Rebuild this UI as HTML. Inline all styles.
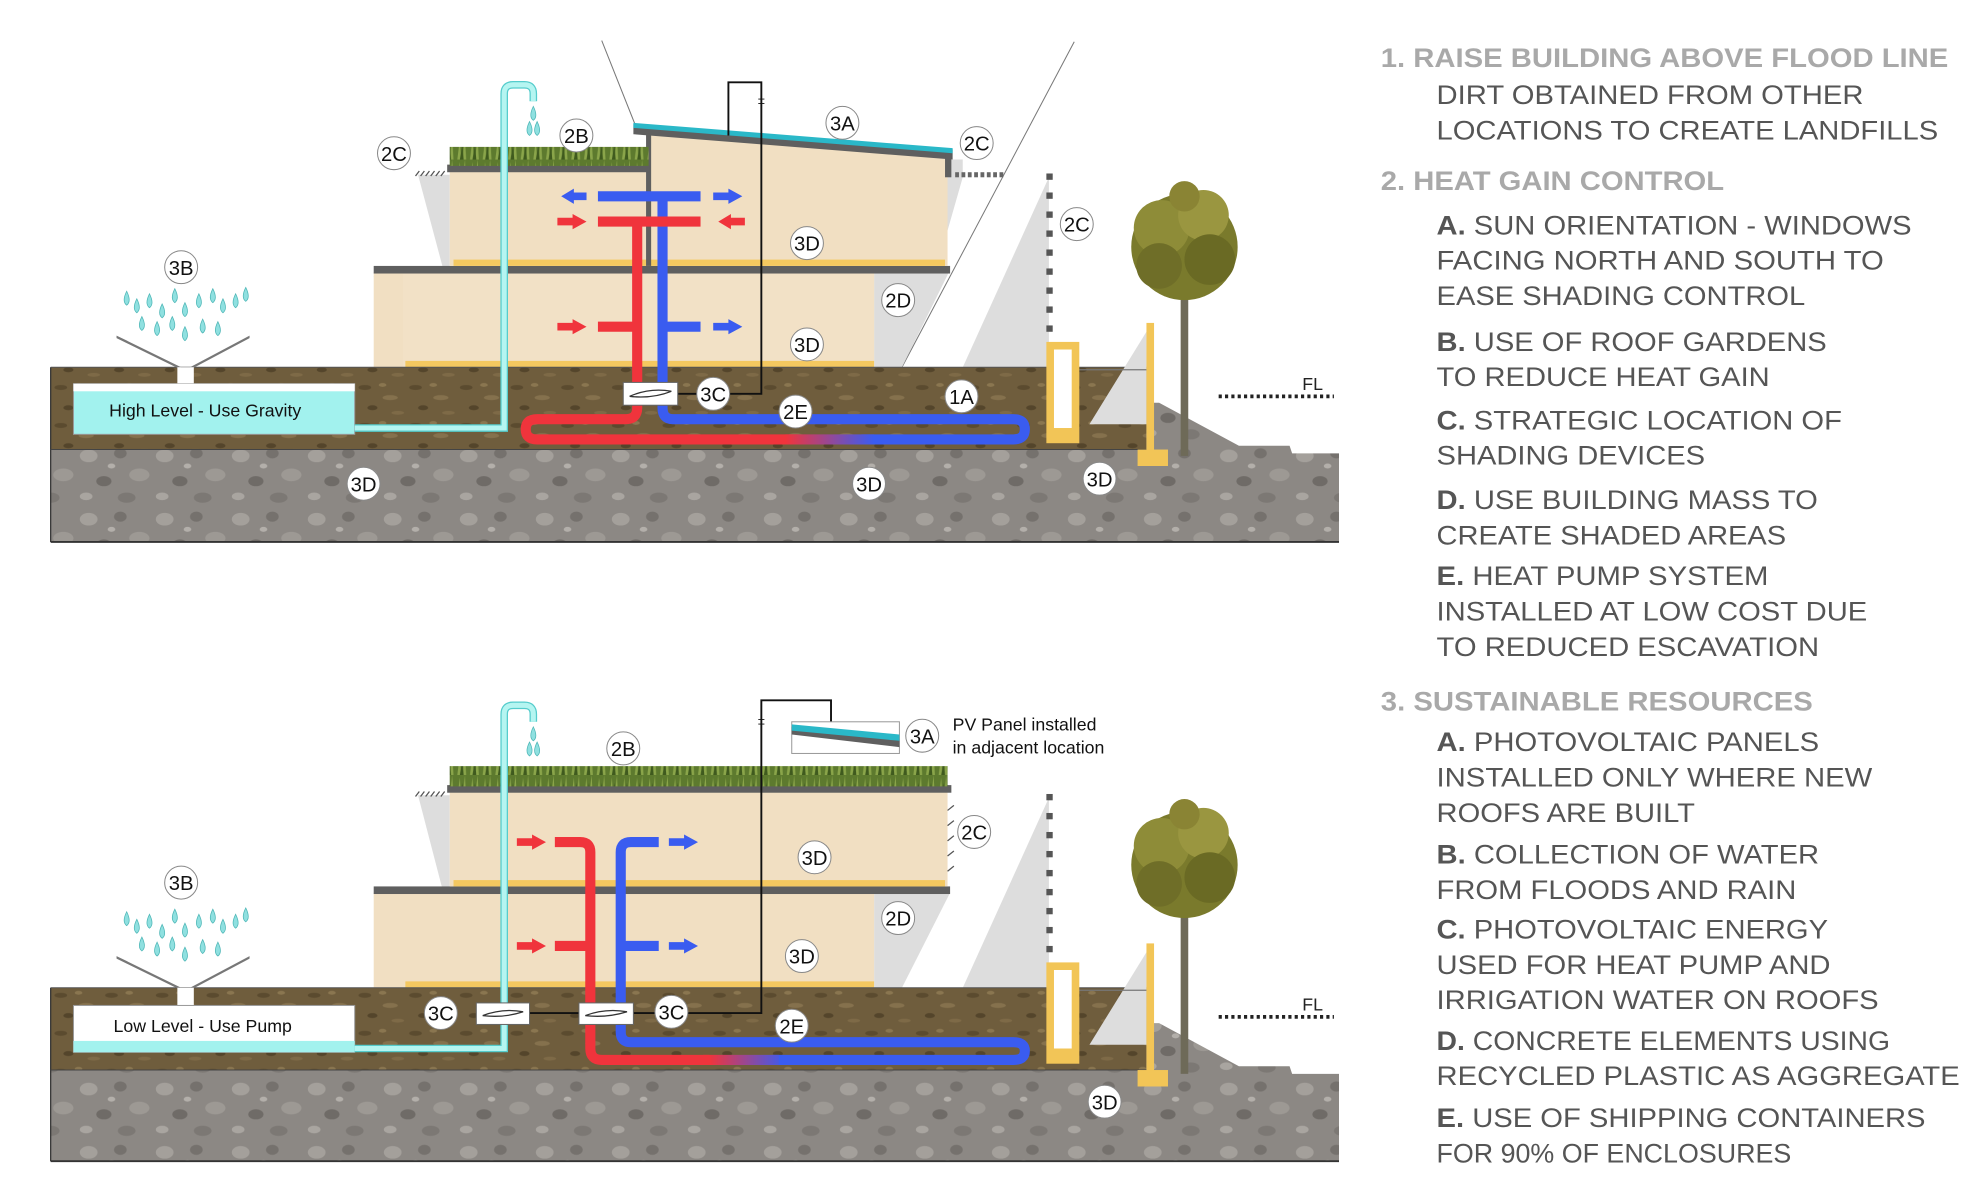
<!DOCTYPE html>
<html><head><meta charset="utf-8"><style>
html,body{margin:0;padding:0;background:#fff;}
svg{display:block;}
</style></head><body>
<svg width="1980" height="1203" viewBox="0 0 1563 950" preserveAspectRatio="none" xmlns="http://www.w3.org/2000/svg" font-family="Liberation Sans, sans-serif">
<defs>
<pattern id="dirt" width="40" height="30" patternUnits="userSpaceOnUse">
<rect width="40" height="30" fill="#6f5d3d"/>
<ellipse cx="8" cy="6" rx="5" ry="2" fill="#5b4b2f"/>
<ellipse cx="28" cy="14" rx="6" ry="2" fill="#85714d"/>
<ellipse cx="14" cy="22" rx="4" ry="2" fill="#54452b"/>
<ellipse cx="34" cy="26" rx="5" ry="1.5" fill="#7e6a47"/>
<ellipse cx="22" cy="4" rx="3" ry="1.5" fill="#8a7650"/>
</pattern>
<pattern id="gravel" width="60" height="50" patternUnits="userSpaceOnUse">
<rect width="60" height="50" fill="#8c8884"/>
<ellipse cx="10" cy="10" rx="7" ry="5" fill="#a4a09b"/>
<ellipse cx="35" cy="8" rx="5" ry="4" fill="#75716d"/>
<ellipse cx="50" cy="25" rx="8" ry="5" fill="#9d9994"/>
<ellipse cx="22" cy="30" rx="6" ry="4" fill="#6f6b67"/>
<ellipse cx="8" cy="42" rx="5" ry="3" fill="#a9a5a0"/>
<ellipse cx="40" cy="43" rx="7" ry="4" fill="#7c7874"/>
<ellipse cx="28" cy="18" rx="3" ry="2" fill="#b3afaa"/>
</pattern>
<pattern id="grass" width="10" height="18" patternUnits="userSpaceOnUse">
<rect width="10" height="18" fill="#5d7a2e"/>
<path d="M1 18 L3 2 L4 18 M5 18 L7 0 L8 18" fill="#8aa54a"/>
<path d="M3 18 L5 6 L6 18" fill="#3f5a1e"/>
</pattern>
<linearGradient id="rb1" gradientUnits="userSpaceOnUse" x1="620" y1="0" x2="690" y2="0"><stop offset="0" stop-color="#f0343c"/><stop offset="1" stop-color="#3a5cf0"/></linearGradient>
<linearGradient id="rb2" gradientUnits="userSpaceOnUse" x1="560" y1="0" x2="620" y2="0"><stop offset="0" stop-color="#f0343c"/><stop offset="1" stop-color="#3a5cf0"/></linearGradient>
<g id="tree">
<rect x="-3" y="0" width="6" height="160" fill="#6e6a58"/>
<circle cx="0" cy="-5" r="42" fill="#7a7a2c"/>
<circle cx="-18" cy="-20" r="22" fill="#8e8c38"/>
<circle cx="15" cy="-30" r="20" fill="#9a9640"/>
<circle cx="20" cy="5" r="20" fill="#6a6a24"/>
<circle cx="-20" cy="10" r="18" fill="#6f6e28"/>
<circle cx="0" cy="-45" r="12" fill="#8a8434"/>
</g>
<g id="drops" fill="#8fe0e0" stroke="#4fb7b7" stroke-width="0.6">
<path d="M0 -8 Q4 0 0 3 Q-4 0 0 -8Z"/>
</g>
</defs>

<!-- ============ TOP DIAGRAM ============ -->
<g id="top">
<!-- sun lines / shading -->
<line x1="475" y1="32" x2="502" y2="100" stroke="#777" stroke-width="0.8"/>
<polygon points="848,33 712,290 760,290 828,140" fill="#fff"/>
<line x1="848" y1="33" x2="712" y2="290" stroke="#777" stroke-width="0.8"/>
<polygon points="828,140 760,290 828,290" fill="#ddd"/>
<g fill="#555"><rect x="826" y="137" width="5" height="5"/><rect x="826" y="152" width="5" height="5"/><rect x="826" y="167" width="5" height="5"/><rect x="826" y="182" width="5" height="5"/><rect x="826" y="197" width="5" height="5"/><rect x="826" y="212" width="5" height="5"/><rect x="826" y="227" width="5" height="5"/><rect x="826" y="242" width="5" height="5"/><rect x="826" y="257" width="5" height="5"/></g>
<polygon points="330,138 355,138 355,213 350,213" fill="#ddd"/>
<polygon points="295,218 318,218 318,290 310,290" fill="#ddd"/>
<polygon points="690,213 750,213 712,290 690,290" fill="#ddd"/>
<polygon points="748,126 760,126 760,140 740,210" fill="#ddd"/>
<!-- lower block -->
<rect x="295" y="215" width="395" height="75" fill="#f1dfc2"/>
<rect x="318" y="215" width="372" height="75" fill="#f2e1c6"/>
<rect x="320" y="285" width="370" height="5" fill="#f4c860"/>
<rect x="295" y="210" width="455" height="6" fill="#5f5f5f"/>
<!-- upper block -->
<rect x="355" y="135" width="157" height="75" fill="#f1dfc2"/>
<polygon points="512,104 748,124 748,210 512,210" fill="#f1dfc2"/>
<rect x="358" y="205" width="388" height="5" fill="#f4c860"/>
<rect x="510" y="104" width="4" height="106" fill="#5f5f5f"/>
<rect x="353" y="130" width="160" height="6" fill="#5f5f5f"/>
<rect x="355" y="116" width="157" height="15" fill="url(#grass)"/>
<polygon points="500,98 752,118 752,126 500,106" fill="#5f5f5f"/>
<polygon points="500,97 752,117 752,121 500,101" fill="#2ab8c8"/>
<rect x="746" y="122" width="5" height="18" fill="#5f5f5f"/>
<g fill="#666"><rect x="754" y="136" width="3" height="4"/><rect x="759" y="136" width="3" height="4"/><rect x="764" y="136" width="3" height="4"/><rect x="769" y="136" width="3" height="4"/><rect x="774" y="136" width="3" height="4"/><rect x="779" y="136" width="3" height="4"/><rect x="784" y="136" width="3" height="4"/><rect x="789" y="136" width="3" height="4"/></g>
<path d="M328 139 l3 -4 M332 139 l3 -4 M336 139 l3 -4 M340 139 l3 -4 M344 139 l3 -4 M348 139 l3 -4" stroke="#555" stroke-width="1"/>
<!-- ground -->
<rect x="40" y="290" width="865" height="65" fill="url(#dirt)"/>
<polygon points="40,355 905,355 905,318 915,318 978,352 1018,352 1020,358 1057,358 1057,428 40,428" fill="url(#gravel)"/>
<line x1="40" y1="290" x2="40" y2="428" stroke="#333"/>
<line x1="40" y1="428" x2="1057" y2="428" stroke="#333" stroke-width="1.5"/>
<line x1="40" y1="290" x2="905" y2="290" stroke="#555" stroke-width="0.8"/>
<line x1="40" y1="355" x2="905" y2="355" stroke="#444" stroke-width="0.8"/>
<!-- retaining & tree -->
<polygon points="860,335 905,262 905,335" fill="#ddd"/>
<line x1="852" y1="292" x2="905" y2="292" stroke="#777"/>
<rect x="826" y="270" width="26" height="80" fill="#f2c557"/>
<rect x="832" y="276" width="14" height="62" fill="#fff"/>
<rect x="905" y="255" width="6" height="103" fill="#f2c557"/>
<rect x="898" y="355" width="24" height="13" fill="#f2c557"/>
<use href="#tree" x="935" y="200"/>
<line x1="962" y1="313" x2="1053" y2="313" stroke="#222" stroke-width="3" stroke-dasharray="2.5,2.5"/>
<text x="1028" y="308" font-size="14" fill="#222">FL</text>
<!-- tank -->
<polygon points="92,265 143,290 143,305 150,305 150,290 197,265 197,267 150,292 150,305 143,305 143,292 92,267" fill="#777"/>
<rect x="140" y="290" width="13" height="16" fill="#fff"/>
<rect x="58" y="303" width="222" height="40" fill="#a2f2ee" stroke="#999" stroke-width="0.8"/>
<rect x="58" y="303" width="222" height="6" fill="#fff"/>
<text x="162" y="329" font-size="14" text-anchor="middle" fill="#111">High Level - Use Gravity</text>
<path d="M280 338 H398 V74 Q398 67 405 67 H414 Q421 67 421 74 V80" fill="none" stroke="#5cc" stroke-width="6"/>
<path d="M280 338 H398 V74 Q398 67 405 67 H414 Q421 67 421 74 V80" fill="none" stroke="#b5f5f1" stroke-width="4"/>
<use href="#drops" x="421" y="92"/><use href="#drops" x="418" y="104"/><use href="#drops" x="424" y="104"/>
<!-- drops 3B -->
<g><use href="#drops" x="100" y="238"/><use href="#drops" x="108" y="244"/><use href="#drops" x="118" y="240"/><use href="#drops" x="128" y="248"/><use href="#drops" x="138" y="236"/><use href="#drops" x="146" y="247"/><use href="#drops" x="157" y="240"/><use href="#drops" x="168" y="236"/><use href="#drops" x="176" y="244"/><use href="#drops" x="186" y="240"/><use href="#drops" x="194" y="235"/><use href="#drops" x="112" y="258"/><use href="#drops" x="124" y="262"/><use href="#drops" x="136" y="258"/><use href="#drops" x="146" y="266"/><use href="#drops" x="160" y="260"/><use href="#drops" x="172" y="262"/></g>
<!-- wire -->
<path d="M535 311 H601 V65 H575 V107" fill="none" stroke="#111" stroke-width="1.5"/>
<text x="601" y="82" font-size="10" text-anchor="middle" fill="#111">±</text>
<!-- pipes -->
<g fill="none" stroke-width="8" stroke-linecap="butt">
<path d="M503 175 V322 Q503 331 494 331 H424 Q415 331 415 339 Q415 347 424 347 H630" stroke="#f0343c"/>
<path d="M680 347 H800 Q809 347 809 339 Q809 331 800 331 H531 Q523 331 523 322 V155" stroke="#3a5cf0"/>
<path d="M620 347 H690" stroke="url(#rb1)"/>
<path d="M472 155 H553" stroke="#3a5cf0"/>
<path d="M472 175 H553" stroke="#f0343c"/>
<path d="M472 258 H503" stroke="#f0343c"/>
<path d="M523 258 H553" stroke="#3a5cf0"/>
</g>
<g fill="#3a5cf0"><polygon points="463,152 453,152 453,149 443,155 453,161 453,158 463,158"/><polygon points="563,152 575,152 575,149 586,155 575,161 575,158 563,158"/><polygon points="563,255 575,255 575,252 586,258 575,264 575,261 563,261"/></g>
<g fill="#f0343c"><polygon points="440,172 452,172 452,169 463,175 452,181 452,178 440,178"/><polygon points="588,172 577,172 577,169 567,175 577,181 577,178 588,178"/><polygon points="440,255 452,255 452,252 463,258 452,264 452,261 440,261"/></g>
<rect x="492" y="302" width="43" height="18" fill="#fff" stroke="#666" stroke-width="0.8"/>
<path d="M497 313 Q513 306 530 309 M497 313 Q515 315 530 309" stroke="#333" fill="none"/>
</g>

<!-- ============ BOTTOM DIAGRAM ============ -->
<g id="bot">
<polygon points="828,630 760,780 828,780" fill="#ddd"/>
<g fill="#555"><rect x="826" y="627" width="5" height="5"/><rect x="826" y="642" width="5" height="5"/><rect x="826" y="657" width="5" height="5"/><rect x="826" y="672" width="5" height="5"/><rect x="826" y="687" width="5" height="5"/><rect x="826" y="702" width="5" height="5"/><rect x="826" y="717" width="5" height="5"/><rect x="826" y="732" width="5" height="5"/><rect x="826" y="747" width="5" height="5"/></g>
<polygon points="330,628 355,628 355,705 350,705" fill="#ddd"/>
<polygon points="295,708 318,708 318,780 310,780" fill="#ddd"/>
<polygon points="690,705 750,705 712,780 690,780" fill="#ddd"/>
<rect x="295" y="705" width="395" height="75" fill="#f1dfc2"/>
<rect x="320" y="775" width="370" height="5" fill="#f4c860"/>
<rect x="295" y="700" width="455" height="6" fill="#5f5f5f"/>
<rect x="355" y="625" width="393" height="75" fill="#f1dfc2"/>
<rect x="358" y="695" width="388" height="5" fill="#f4c860"/>
<rect x="353" y="620" width="398" height="6" fill="#5f5f5f"/>
<rect x="355" y="605" width="393" height="16" fill="url(#grass)"/>
<path d="M748 640 l5 -4 M748 652 l5 -4 M748 664 l5 -4 M748 676 l5 -4 M748 688 l5 -4" stroke="#555"/>
<path d="M328 629 l3 -4 M332 629 l3 -4 M336 629 l3 -4 M340 629 l3 -4 M344 629 l3 -4 M348 629 l3 -4" stroke="#555" stroke-width="1"/>
<rect x="40" y="780" width="865" height="65" fill="url(#dirt)"/>
<polygon points="40,845 905,845 905,808 915,808 978,842 1018,842 1020,848 1057,848 1057,917 40,917" fill="url(#gravel)"/>
<line x1="40" y1="780" x2="40" y2="917" stroke="#333"/>
<line x1="40" y1="917" x2="1057" y2="917" stroke="#333" stroke-width="1.5"/>
<line x1="40" y1="780" x2="905" y2="780" stroke="#555" stroke-width="0.8"/>
<line x1="40" y1="845" x2="905" y2="845" stroke="#444" stroke-width="0.8"/>
<polygon points="860,825 905,752 905,825" fill="#ddd"/>
<line x1="852" y1="782" x2="905" y2="782" stroke="#777"/>
<rect x="826" y="760" width="26" height="80" fill="#f2c557"/>
<rect x="832" y="766" width="14" height="62" fill="#fff"/>
<rect x="905" y="745" width="6" height="103" fill="#f2c557"/>
<rect x="898" y="845" width="24" height="13" fill="#f2c557"/>
<use href="#tree" x="935" y="688"/>
<line x1="962" y1="803" x2="1053" y2="803" stroke="#222" stroke-width="3" stroke-dasharray="2.5,2.5"/>
<text x="1028" y="798" font-size="14" fill="#222">FL</text>
<polygon points="92,755 143,780 143,795 150,795 150,780 197,755 197,757 150,782 150,795 143,795 143,782 92,757" fill="#777"/>
<rect x="140" y="780" width="13" height="16" fill="#fff"/>
<rect x="58" y="794" width="222" height="37" fill="#fff" stroke="#999" stroke-width="0.8"/>
<rect x="58" y="822" width="222" height="9" fill="#a2f2ee"/>
<text x="160" y="815" font-size="14" text-anchor="middle" fill="#111">Low Level - Use Pump</text>
<path d="M280 828 H398 V564 Q398 557 405 557 H414 Q421 557 421 564 V570" fill="none" stroke="#5cc" stroke-width="6"/>
<path d="M280 828 H398 V564 Q398 557 405 557 H414 Q421 557 421 564 V570" fill="none" stroke="#b5f5f1" stroke-width="4"/>
<use href="#drops" x="421" y="582"/><use href="#drops" x="418" y="594"/><use href="#drops" x="424" y="594"/>
<g><use href="#drops" x="100" y="728"/><use href="#drops" x="108" y="734"/><use href="#drops" x="118" y="730"/><use href="#drops" x="128" y="738"/><use href="#drops" x="138" y="726"/><use href="#drops" x="146" y="737"/><use href="#drops" x="157" y="730"/><use href="#drops" x="168" y="726"/><use href="#drops" x="176" y="734"/><use href="#drops" x="186" y="730"/><use href="#drops" x="194" y="725"/><use href="#drops" x="112" y="748"/><use href="#drops" x="124" y="752"/><use href="#drops" x="136" y="748"/><use href="#drops" x="146" y="756"/><use href="#drops" x="160" y="750"/><use href="#drops" x="172" y="752"/></g>
<path d="M418 800 H457 M500 800 H601 V553 H656 V570" fill="none" stroke="#111" stroke-width="1.5"/>
<text x="601" y="572" font-size="10" text-anchor="middle" fill="#111">±</text>
<rect x="625" y="570" width="85" height="25" fill="#fff" stroke="#999" stroke-width="0.8"/>
<polygon points="625,574 710,584 710,590 625,580" fill="#5f5f5f"/>
<polygon points="625,572 710,580 710,585 625,577" fill="#2ab8c8"/>
<text x="752" y="577" font-size="14" fill="#111">PV Panel installed</text>
<text x="752" y="595" font-size="14" fill="#111">in adjacent location</text>
<g fill="none" stroke-width="8">
<path d="M438 665 H458 Q466 665 466 673 V828 Q466 837 475 837 H560" stroke="#f0343c"/>
<path d="M610 837 H800 Q809 837 809 830 Q809 823 800 823 H498 Q490 823 490 815 V673 Q490 665 498 665 H520" stroke="#3a5cf0"/>
<path d="M555 837 H615" stroke="url(#rb2)"/>
<path d="M438 747 H466" stroke="#f0343c"/>
<path d="M490 747 H520" stroke="#3a5cf0"/>
</g>
<g fill="#f0343c"><polygon points="408,662 420,662 420,659 431,665 420,671 420,668 408,668"/><polygon points="408,744 420,744 420,741 431,747 420,753 420,750 408,750"/></g>
<g fill="#3a5cf0"><polygon points="528,662 540,662 540,659 551,665 540,671 540,668 528,668"/><polygon points="528,744 540,744 540,741 551,747 540,753 540,750 528,750"/></g>
<rect x="376" y="792" width="42" height="17" fill="#fff" stroke="#666" stroke-width="0.8"/>
<path d="M381 802 Q397 796 413 799 M381 802 Q398 804 413 799" stroke="#333" fill="none"/>
<rect x="457" y="792" width="43" height="17" fill="#fff" stroke="#666" stroke-width="0.8"/>
<path d="M462 802 Q478 796 495 799 M462 802 Q479 804 495 799" stroke="#333" fill="none"/>
</g>

<!-- labels -->
<g font-size="16" text-anchor="middle" fill="#111">
<g fill="#fff" stroke="#888" stroke-width="0.8">
<circle cx="311" cy="121" r="13"/><circle cx="455" cy="107" r="13"/><circle cx="665" cy="97" r="13"/><circle cx="771" cy="113" r="13"/><circle cx="850" cy="177" r="13"/><circle cx="637" cy="192" r="13"/><circle cx="709" cy="237" r="13"/><circle cx="637" cy="272" r="13"/><circle cx="143" cy="211" r="13"/><circle cx="563" cy="311" r="13"/><circle cx="628" cy="325" r="13"/><circle cx="759" cy="313" r="13"/><circle cx="287" cy="382" r="13"/><circle cx="686" cy="382" r="13"/><circle cx="868" cy="378" r="13"/>
<circle cx="143" cy="697" r="13"/><circle cx="492" cy="591" r="13"/><circle cx="728" cy="581" r="13"/><circle cx="769" cy="657" r="13"/><circle cx="643" cy="677" r="13"/><circle cx="709" cy="725" r="13"/><circle cx="633" cy="755" r="13"/><circle cx="348" cy="800" r="13"/><circle cx="530" cy="799" r="13"/><circle cx="625" cy="810" r="13"/><circle cx="872" cy="870" r="13"/>
</g>
<text x="311" y="127">2C</text><text x="455" y="113">2B</text><text x="665" y="103">3A</text><text x="771" y="119">2C</text><text x="850" y="183">2C</text><text x="637" y="198">3D</text><text x="709" y="243">2D</text><text x="637" y="278">3D</text><text x="143" y="217">3B</text><text x="563" y="317">3C</text><text x="628" y="331">2E</text><text x="759" y="319">1A</text><text x="287" y="388">3D</text><text x="686" y="388">3D</text><text x="868" y="384">3D</text>
<text x="143" y="703">3B</text><text x="492" y="597">2B</text><text x="728" y="587">3A</text><text x="769" y="663">2C</text><text x="643" y="683">3D</text><text x="709" y="731">2D</text><text x="633" y="761">3D</text><text x="348" y="806">3C</text><text x="530" y="805">3C</text><text x="625" y="816">2E</text><text x="872" y="876">3D</text>
</g>

<!-- text column -->
<g font-size="21" fill="#555" lengthAdjust="spacingAndGlyphs">
<g font-weight="bold" fill="#a9a9a9">
<text x="1090" y="53" textLength="448" lengthAdjust="spacingAndGlyphs">1. RAISE BUILDING ABOVE FLOOD LINE</text>
<text x="1090" y="150" textLength="271" lengthAdjust="spacingAndGlyphs">2. HEAT GAIN CONTROL</text>
<text x="1090" y="561" textLength="341" lengthAdjust="spacingAndGlyphs">3. SUSTAINABLE RESOURCES</text>
</g>
<text x="1134" y="82" textLength="337" lengthAdjust="spacingAndGlyphs">DIRT OBTAINED FROM OTHER</text>
<text x="1134" y="110" textLength="396" lengthAdjust="spacingAndGlyphs">LOCATIONS TO CREATE LANDFILLS</text>
<text x="1134" y="185" textLength="375" lengthAdjust="spacingAndGlyphs"><tspan font-weight="bold">A.</tspan> SUN ORIENTATION - WINDOWS</text>
<text x="1134" y="213" textLength="353" lengthAdjust="spacingAndGlyphs">FACING NORTH AND SOUTH TO</text>
<text x="1134" y="241" textLength="291" lengthAdjust="spacingAndGlyphs">EASE SHADING CONTROL</text>
<text x="1134" y="277" textLength="308" lengthAdjust="spacingAndGlyphs"><tspan font-weight="bold">B.</tspan> USE OF ROOF GARDENS</text>
<text x="1134" y="305" textLength="263" lengthAdjust="spacingAndGlyphs">TO REDUCE HEAT GAIN</text>
<text x="1134" y="339" textLength="320" lengthAdjust="spacingAndGlyphs"><tspan font-weight="bold">C.</tspan> STRATEGIC LOCATION OF</text>
<text x="1134" y="367" textLength="212" lengthAdjust="spacingAndGlyphs">SHADING DEVICES</text>
<text x="1134" y="402" textLength="301" lengthAdjust="spacingAndGlyphs"><tspan font-weight="bold">D.</tspan> USE BUILDING MASS TO</text>
<text x="1134" y="430" textLength="276" lengthAdjust="spacingAndGlyphs">CREATE SHADED AREAS</text>
<text x="1134" y="462" textLength="262" lengthAdjust="spacingAndGlyphs"><tspan font-weight="bold">E.</tspan> HEAT PUMP SYSTEM</text>
<text x="1134" y="490" textLength="340" lengthAdjust="spacingAndGlyphs">INSTALLED AT LOW COST DUE</text>
<text x="1134" y="518" textLength="302" lengthAdjust="spacingAndGlyphs">TO REDUCED ESCAVATION</text>
<text x="1134" y="593" textLength="302" lengthAdjust="spacingAndGlyphs"><tspan font-weight="bold">A.</tspan> PHOTOVOLTAIC PANELS</text>
<text x="1134" y="621" textLength="344" lengthAdjust="spacingAndGlyphs">INSTALLED ONLY WHERE NEW</text>
<text x="1134" y="649" textLength="204" lengthAdjust="spacingAndGlyphs">ROOFS ARE BUILT</text>
<text x="1134" y="682" textLength="302" lengthAdjust="spacingAndGlyphs"><tspan font-weight="bold">B.</tspan> COLLECTION OF WATER</text>
<text x="1134" y="710" textLength="284" lengthAdjust="spacingAndGlyphs">FROM FLOODS AND RAIN</text>
<text x="1134" y="741" textLength="309" lengthAdjust="spacingAndGlyphs"><tspan font-weight="bold">C.</tspan> PHOTOVOLTAIC ENERGY</text>
<text x="1134" y="769" textLength="311" lengthAdjust="spacingAndGlyphs">USED FOR HEAT PUMP AND</text>
<text x="1134" y="797" textLength="349" lengthAdjust="spacingAndGlyphs">IRRIGATION WATER ON ROOFS</text>
<text x="1134" y="829" textLength="358" lengthAdjust="spacingAndGlyphs"><tspan font-weight="bold">D.</tspan> CONCRETE ELEMENTS USING</text>
<text x="1134" y="857" textLength="413" lengthAdjust="spacingAndGlyphs">RECYCLED PLASTIC AS AGGREGATE</text>
<text x="1134" y="890" textLength="386" lengthAdjust="spacingAndGlyphs"><tspan font-weight="bold">E.</tspan> USE OF SHIPPING CONTAINERS</text>
<text x="1134" y="918" textLength="280" lengthAdjust="spacingAndGlyphs">FOR 90% OF ENCLOSURES</text>
</g>
</svg>
</body></html>
